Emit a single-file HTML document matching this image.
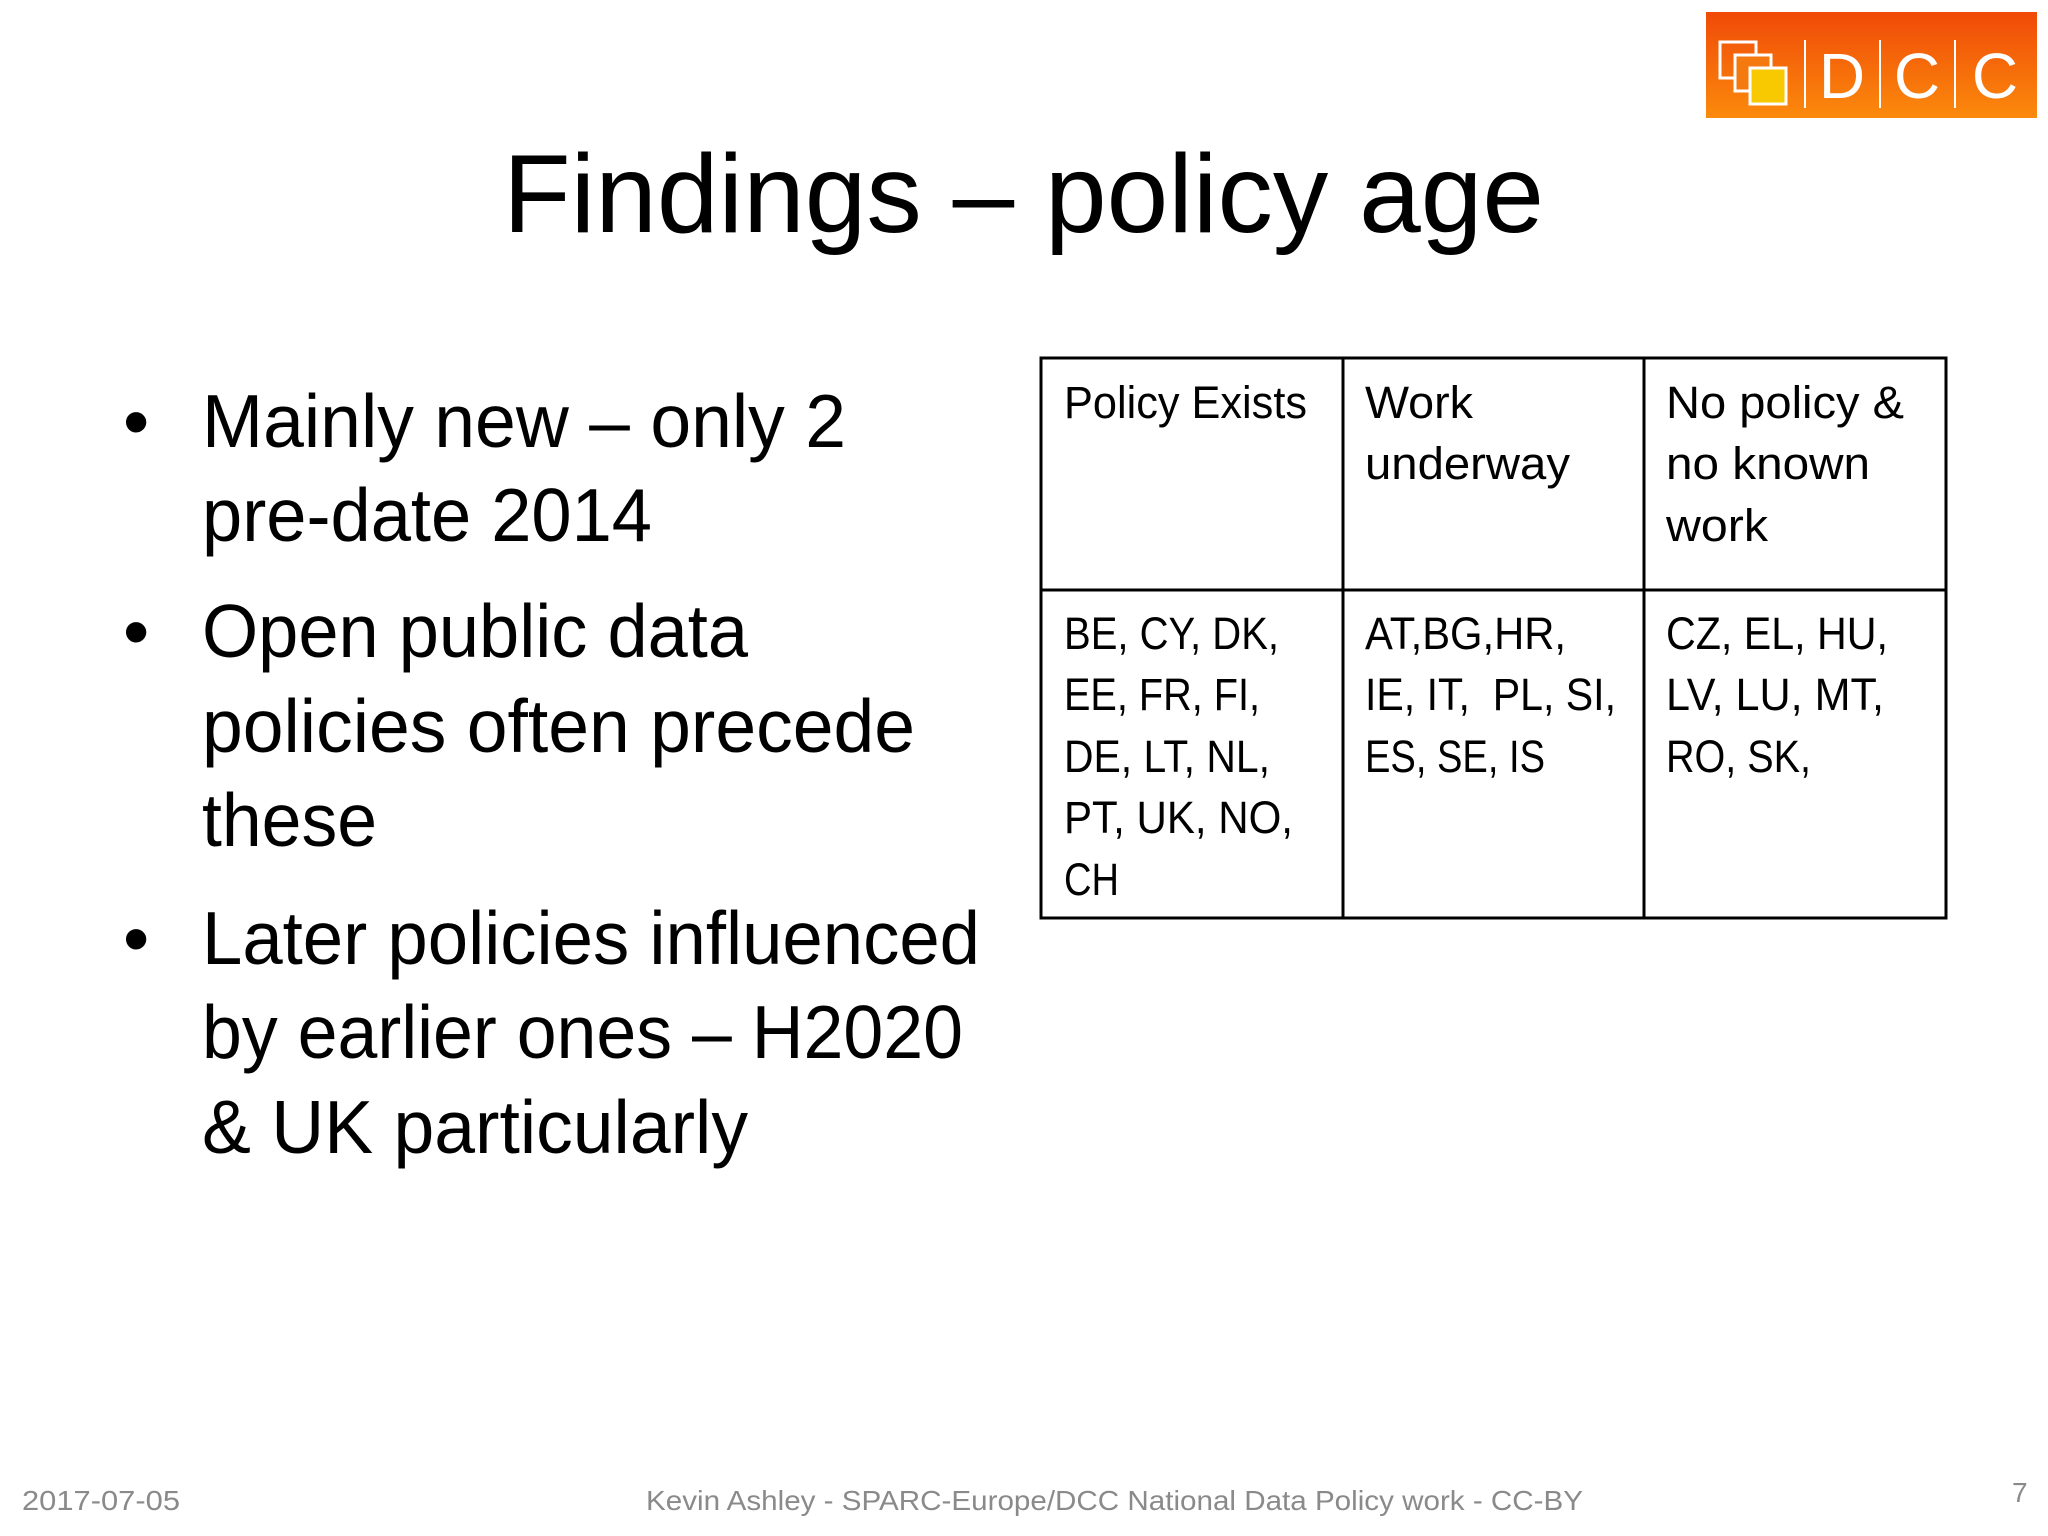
<!DOCTYPE html>
<html><head><meta charset="utf-8"><style>
html,body{margin:0;padding:0;background:#fff}
svg{display:block}
text{font-family:"Liberation Sans",sans-serif}
</style></head><body>
<svg width="2048" height="1536" viewBox="0 0 2048 1536">
<defs><linearGradient id="lg" x1="0" y1="0" x2="0" y2="1"><stop offset="0" stop-color="#f04a08"/><stop offset="1" stop-color="#fb8a0c"/></linearGradient></defs>
<g>
<rect x="1706" y="12" width="331" height="106" fill="url(#lg)"/>
<rect x="1720" y="42" width="36" height="36" fill="none" stroke="#fff" stroke-width="3"/>
<rect x="1735" y="55" width="36" height="36" fill="#f47a10" stroke="#fff" stroke-width="3"/>
<rect x="1750" y="68" width="36" height="36" fill="#f8c800" stroke="#fff" stroke-width="3"/>
<line x1="1805" y1="40" x2="1805" y2="108" stroke="#fff" stroke-width="2"/>
<line x1="1880" y1="40" x2="1880" y2="108" stroke="#fff" stroke-width="2"/>
<line x1="1955" y1="40" x2="1955" y2="108" stroke="#fff" stroke-width="2"/>
<text x="1842" y="98" font-size="64" fill="#fff" text-anchor="middle">D</text>
<text x="1917" y="98" font-size="64" fill="#fff" text-anchor="middle">C</text>
<text x="1995" y="98" font-size="64" fill="#fff" text-anchor="middle">C</text>
</g>
<text x="503" y="232" font-size="111" textLength="1041" lengthAdjust="spacingAndGlyphs" fill="#000">Findings – policy age</text>
<g font-size="75" fill="#000">
<text x="123" y="447">•</text><text x="123" y="657">•</text><text x="123" y="964">•</text>
<text x="202" y="447" textLength="644" lengthAdjust="spacingAndGlyphs">Mainly new – only 2</text>
<text x="202" y="541" textLength="450" lengthAdjust="spacingAndGlyphs">pre-date 2014</text>
<text x="202" y="657" textLength="546" lengthAdjust="spacingAndGlyphs">Open public data</text>
<text x="202" y="752" textLength="713" lengthAdjust="spacingAndGlyphs">policies often precede</text>
<text x="202" y="846" textLength="175" lengthAdjust="spacingAndGlyphs">these</text>
<text x="202" y="964" textLength="778" lengthAdjust="spacingAndGlyphs">Later policies influenced</text>
<text x="202" y="1058" textLength="761" lengthAdjust="spacingAndGlyphs">by earlier ones – H2020</text>
<text x="202" y="1153" textLength="546" lengthAdjust="spacingAndGlyphs">&amp; UK particularly</text>
</g>
<g stroke="#000" stroke-width="3" fill="none">
<rect x="1041" y="358" width="905" height="560"/>
<line x1="1343" y1="358" x2="1343" y2="918"/>
<line x1="1644" y1="358" x2="1644" y2="918"/>
<line x1="1041" y1="590" x2="1946" y2="590"/>
</g>
<g font-size="45" fill="#000">
<text x="1064" y="418" textLength="243" lengthAdjust="spacingAndGlyphs">Policy Exists</text>
<text x="1365" y="418" textLength="108" lengthAdjust="spacingAndGlyphs">Work</text>
<text x="1365" y="479" textLength="205" lengthAdjust="spacingAndGlyphs">underway</text>
<text x="1666" y="418" textLength="238" lengthAdjust="spacingAndGlyphs">No policy &amp;</text>
<text x="1666" y="479" textLength="204" lengthAdjust="spacingAndGlyphs">no known</text>
<text x="1666" y="541" textLength="102" lengthAdjust="spacingAndGlyphs">work</text>
<text x="1064" y="649" textLength="215" lengthAdjust="spacingAndGlyphs">BE, CY, DK,</text>
<text x="1064" y="710" textLength="196" lengthAdjust="spacingAndGlyphs">EE, FR, FI,</text>
<text x="1064" y="772" textLength="206" lengthAdjust="spacingAndGlyphs">DE, LT, NL,</text>
<text x="1064" y="833" textLength="229" lengthAdjust="spacingAndGlyphs">PT, UK, NO,</text>
<text x="1064" y="895" textLength="55" lengthAdjust="spacingAndGlyphs">CH</text>
<text x="1365" y="649" textLength="201" lengthAdjust="spacingAndGlyphs">AT,BG,HR,</text>
<text x="1365" y="710" textLength="251" lengthAdjust="spacingAndGlyphs" xml:space="preserve">IE, IT,  PL, SI,</text>
<text x="1365" y="772" textLength="180" lengthAdjust="spacingAndGlyphs">ES, SE, IS</text>
<text x="1666" y="649" textLength="222" lengthAdjust="spacingAndGlyphs">CZ, EL, HU,</text>
<text x="1666" y="710" textLength="218" lengthAdjust="spacingAndGlyphs">LV, LU, MT,</text>
<text x="1666" y="772" textLength="145" lengthAdjust="spacingAndGlyphs">RO, SK,</text>
</g>
<g font-size="28" fill="#8a8a8a">
<text x="22" y="1510" textLength="158" lengthAdjust="spacingAndGlyphs">2017-07-05</text>
<text x="646" y="1510" textLength="937" lengthAdjust="spacingAndGlyphs">Kevin Ashley - SPARC-Europe/DCC National Data Policy work - CC-BY</text>
<text x="2012" y="1502">7</text>
</g>
</svg>
</body></html>
